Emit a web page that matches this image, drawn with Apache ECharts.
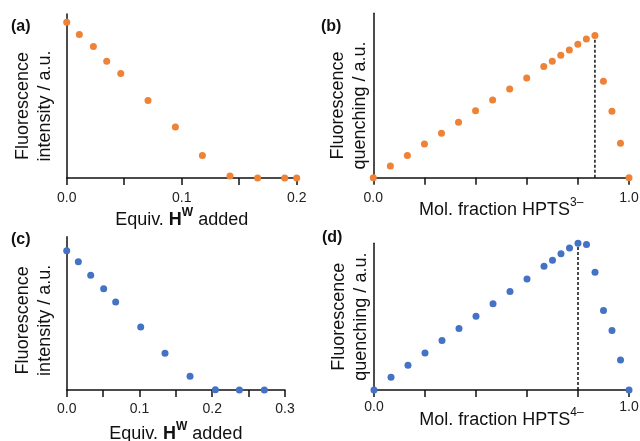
<!DOCTYPE html>
<html><head><meta charset="utf-8">
<script src="https://cdn.jsdelivr.net/npm/echarts@6/dist/echarts.min.js"></script>
<style>html,body{margin:0;padding:0;background:#fff}#c{width:640px;height:441px}</style>
</head><body><div id="c"></div>
<script>
// Panel (a): titration, orange
const aX = [0, 0.011, 0.0232, 0.0348, 0.047, 0.0707, 0.0945, 0.118, 0.142, 0.166, 0.1896, 0.2];
const aY = [1.0, 0.921, 0.844, 0.750, 0.671, 0.498, 0.327, 0.145, 0.013, 0, 0, 0];
// Panel (b): Job plot HPTS3-, orange
const bX = [0, 0.0667, 0.1333, 0.2, 0.2667, 0.3333, 0.4, 0.4667, 0.5333, 0.6, 0.6667, 0.7, 0.7333, 0.7667, 0.8, 0.8333, 0.8667, 0.9, 0.9333, 0.9667, 1.0];
const bY = [0, 0.082, 0.157, 0.237, 0.312, 0.390, 0.472, 0.547, 0.624, 0.702, 0.782, 0.819, 0.862, 0.899, 0.939, 0.977, 1.0, 0.678, 0.467, 0.242, 0];
const bDash = 0.8667;
// Panel (c): titration, blue
const cX = [0, 0.016, 0.033, 0.0508, 0.0673, 0.1017, 0.1351, 0.1695, 0.2043, 0.2373, 0.2716];
const cY = [1.0, 0.921, 0.823, 0.727, 0.632, 0.452, 0.263, 0.098, 0.002, 0, 0];
// Panel (d): Job plot HPTS4-, blue
const dX = [0, 0.0667, 0.1333, 0.2, 0.2667, 0.3333, 0.4, 0.4667, 0.5333, 0.6, 0.6667, 0.7, 0.7333, 0.7667, 0.8, 0.8333, 0.8667, 0.9, 0.9333, 0.9667, 1.0];
const dY = [0, 0.087, 0.169, 0.253, 0.337, 0.419, 0.503, 0.588, 0.672, 0.756, 0.843, 0.884, 0.929, 0.968, 1.0, 0.991, 0.802, 0.542, 0.405, 0.205, 0];
const dDash = 0.8;
const panelLabels = ['(a)', '(b)', '(c)', '(d)'];
const xNames = ['Equiv. {b|H}{sup|W} added', 'Mol. fraction HPTS{sup2|3–}', 'Equiv. {b|H}{sup|W} added', 'Mol. fraction HPTS{sup2|4–}'];
const yNames = ['Fluorescence\nintensity / a.u.', 'Fluorescence\nquenching / a.u.', 'Fluorescence\nintensity / a.u.', 'Fluorescence\nquenching / a.u.'];

const ORANGE = '#EE8236', BLUE = '#4472C4';
const FONT = '"Liberation Sans", Arial, Helvetica, sans-serif';
const zip = (xs, ys) => xs.map((x, i) => [x, ys[i]]);

const grids = [
  {left: 66.7, right: 343.3, top: 14, bottom: 263},
  {left: 373.3, right: 11, top: 13.3, bottom: 263.3},
  {left: 66.7, right: 355, top: 236.7, bottom: 51},
  {left: 374, right: 11, top: 243.3, bottom: 51}
].map(g => Object.assign(g, {containLabel: false, outerBoundsMode: 'none'}));
const xCfg = [
  {max: 0.2, interval: 0.1, minor: 2, gap: 33, margin: 13},
  {max: 1.0, interval: 1.0, minor: 5, gap: 23, margin: 13},
  {max: 0.3, interval: 0.1, minor: 2, gap: 35, margin: 12},
  {max: 1.0, interval: 1.0, minor: 5, gap: 21, margin: 10}
];
const yMax = [1.053, 1.157, 1.1, 1.0];
const yGap = [11, 2, 11, 2];
const yShift = [20, 20, 14, 0];

const axisLine = {show: true, onZero: false, lineStyle: {color: '#111', width: 1.5}};
const rich = {
  b: {fontSize: 18, fontWeight: 'bold', fontFamily: FONT, color: '#111'},
  sup: {fontSize: 12, fontWeight: 'bold', fontFamily: FONT, color: '#111', padding: [0, 0, 14, 0], lineHeight: 18},
  sup2: {fontSize: 12, fontFamily: FONT, color: '#111', padding: [0, 0, 14, 0], lineHeight: 18}
};

const xAxis = xCfg.map((c, i) => ({
  type: 'value', gridIndex: i, min: 0, max: c.max, interval: c.interval,
  axisLine: axisLine,
  axisTick: {show: true, inside: false, length: 7, lineStyle: {color: '#111', width: 1.5}},
  minorTick: {show: true, splitNumber: c.minor, length: 7, lineStyle: {color: '#111', width: 1.5}},
  splitLine: {show: false}, minorSplitLine: {show: false},
  axisLabel: {fontSize: 14, color: '#222', fontFamily: FONT, margin: c.margin, formatter: v => v.toFixed(1)},
  name: xNames[i], nameLocation: 'middle', nameGap: c.gap, nameMoveOverlap: false,
  nameTextStyle: {fontSize: 18, color: '#111', fontFamily: FONT, rich: rich}
}));
const yAxis = yMax.map((m, i) => ({
  type: 'value', gridIndex: i, min: 0, max: m,
  axisLine: axisLine, axisTick: {show: false}, axisLabel: {show: false}, splitLine: {show: false},
  name: yNames[i], nameLocation: 'middle', nameGap: yGap[i], nameMoveOverlap: false,
  nameTextStyle: {fontSize: 18, color: '#111', fontFamily: FONT, lineHeight: 22, padding: [0, yShift[i], 0, 0]}
}));

const scat = (data, i, color) => ({
  type: 'scatter', xAxisIndex: i, yAxisIndex: i, data: data, symbolSize: 7, clip: false,
  itemStyle: {color: color, opacity: 1}, z: 3
});
const dash = (x, ys, i) => ({
  type: 'line', xAxisIndex: i, yAxisIndex: i, data: [[x, 0], [x, Math.max(...ys)]],
  symbol: 'none', lineStyle: {color: '#111', width: 1.5, type: [3, 2]}, z: 2, silent: true
});

const labelPos = [[11, 19], [321, 19], [11, 232], [322, 230]];
const chart = echarts.init(document.getElementById('c'), null, {renderer: 'canvas'});
chart.setOption({
  animation: false,
  grid: grids,
  xAxis: xAxis,
  yAxis: yAxis,
  series: [
    scat(zip(aX, aY), 0, ORANGE),
    scat(zip(bX, bY), 1, ORANGE), dash(bDash, bY, 1),
    scat(zip(cX, cY), 2, BLUE),
    scat(zip(dX, dY), 3, BLUE), dash(dDash, dY, 3)
  ],
  graphic: panelLabels.map((t, i) => ({
    type: 'text', left: labelPos[i][0], top: labelPos[i][1],
    style: {text: t, fontSize: 16, fontWeight: 'bold', fontFamily: FONT, fill: '#111'}
  }))
});
</script></body></html>
